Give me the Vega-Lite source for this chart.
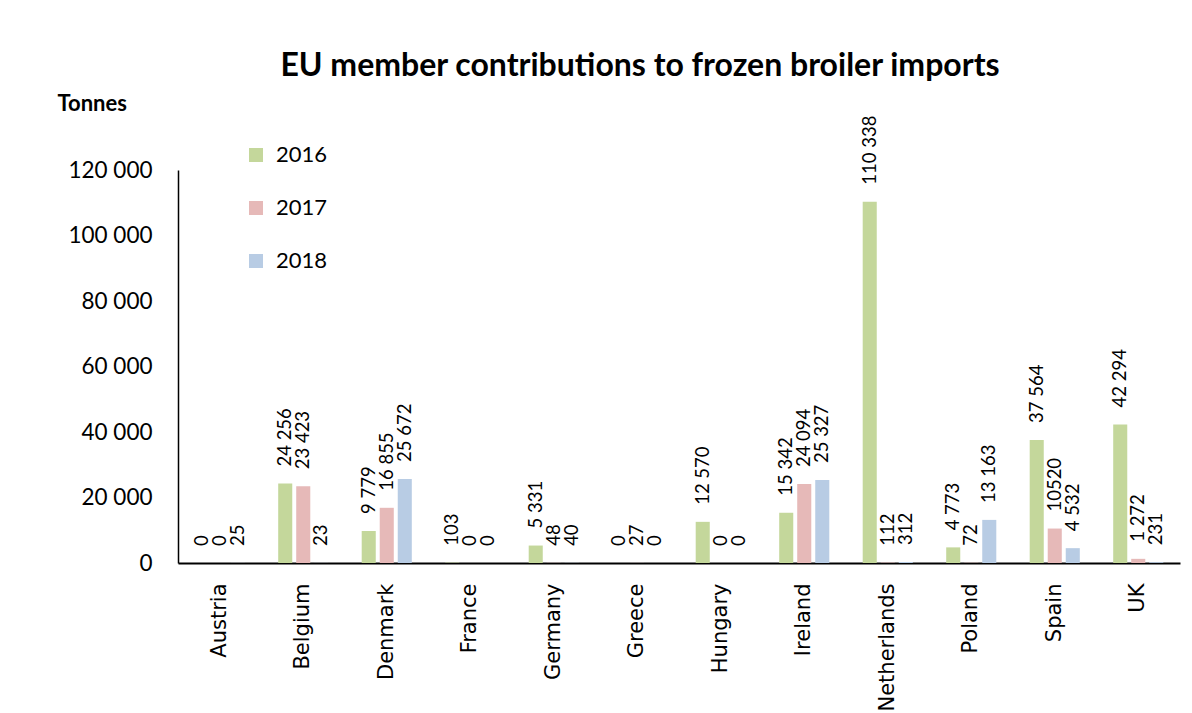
{
  "$schema": "https://vega.github.io/schema/vega-lite/v6.json",
  "autosize": {"type": "none"},
  "padding": {"left": 178, "top": 170, "right": 12, "bottom": 150},
  "width": 1002,
  "height": 393,
  "background": "white",
  "title": {
    "text": "EU member contributions to frozen broiler imports",
    "font": "Lato",
    "fontSize": 32,
    "fontWeight": "bold",
    "color": "#000000",
    "anchor": "middle",
    "frame": "group",
    "dx": -39,
    "offset": 9
  },
  "data": {
    "values": [
      {"country": "Austria", "year": "2016", "value": 0, "label": "0"},
      {"country": "Austria", "year": "2017", "value": 0, "label": "0"},
      {"country": "Austria", "year": "2018", "value": 25, "label": "25"},
      {"country": "Belgium", "year": "2016", "value": 24256, "label": "24 256"},
      {"country": "Belgium", "year": "2017", "value": 23423, "label": "23 423"},
      {"country": "Belgium", "year": "2018", "value": 23, "label": "23"},
      {"country": "Denmark", "year": "2016", "value": 9779, "label": "9 779"},
      {"country": "Denmark", "year": "2017", "value": 16855, "label": "16 855"},
      {"country": "Denmark", "year": "2018", "value": 25672, "label": "25 672"},
      {"country": "France", "year": "2016", "value": 103, "label": "103"},
      {"country": "France", "year": "2017", "value": 0, "label": "0"},
      {"country": "France", "year": "2018", "value": 0, "label": "0"},
      {"country": "Germany", "year": "2016", "value": 5331, "label": "5 331"},
      {"country": "Germany", "year": "2017", "value": 48, "label": "48"},
      {"country": "Germany", "year": "2018", "value": 40, "label": "40"},
      {"country": "Greece", "year": "2016", "value": 0, "label": "0"},
      {"country": "Greece", "year": "2017", "value": 27, "label": "27"},
      {"country": "Greece", "year": "2018", "value": 0, "label": "0"},
      {"country": "Hungary", "year": "2016", "value": 12570, "label": "12 570"},
      {"country": "Hungary", "year": "2017", "value": 0, "label": "0"},
      {"country": "Hungary", "year": "2018", "value": 0, "label": "0"},
      {"country": "Ireland", "year": "2016", "value": 15342, "label": "15 342"},
      {"country": "Ireland", "year": "2017", "value": 24094, "label": "24 094"},
      {"country": "Ireland", "year": "2018", "value": 25327, "label": "25 327"},
      {"country": "Netherlands", "year": "2016", "value": 110338, "label": "110 338"},
      {"country": "Netherlands", "year": "2017", "value": 112, "label": "112"},
      {"country": "Netherlands", "year": "2018", "value": 312, "label": "312"},
      {"country": "Poland", "year": "2016", "value": 4773, "label": "4 773"},
      {"country": "Poland", "year": "2017", "value": 72, "label": "72"},
      {"country": "Poland", "year": "2018", "value": 13163, "label": "13 163"},
      {"country": "Spain", "year": "2016", "value": 37564, "label": "37 564"},
      {"country": "Spain", "year": "2017", "value": 10520, "label": "10520"},
      {"country": "Spain", "year": "2018", "value": 4532, "label": "4 532"},
      {"country": "UK", "year": "2016", "value": 42294, "label": "42 294"},
      {"country": "UK", "year": "2017", "value": 1272, "label": "1 272"},
      {"country": "UK", "year": "2018", "value": 231, "label": "231"}
    ]
  },
  "encoding": {
    "x": {
      "field": "country",
      "type": "nominal",
      "sort": null,
      "scale": {"paddingInner": 0.4, "paddingOuter": 0.2},
      "axis": {
        "title": null,
        "labelAngle": -90,
        "labelFont": "DejaVu Sans",
        "labelFontSize": 21,
        "labelColor": "#000000",
        "labelPadding": 20,
        "labelLimit": 200,
        "ticks": false,
        "domainColor": "#000000",
        "domainWidth": 2
      }
    },
    "xOffset": {
      "field": "year",
      "type": "nominal",
      "scale": {"paddingInner": 0.22, "paddingOuter": 0}
    },
    "y": {
      "field": "value",
      "type": "quantitative",
      "scale": {"domain": [0, 120000], "nice": false},
      "axis": {
        "title": "Tonnes",
        "titleAngle": 0,
        "titleAlign": "left",
        "titleBaseline": "middle",
        "titleX": -121,
        "titleY": -67,
        "titleFont": "Lato",
        "titleFontSize": 22,
        "titleFontWeight": "bold",
        "titleColor": "#000000",
        "values": [0, 20000, 40000, 60000, 80000, 100000, 120000],
        "labelExpr": "replace(format(datum.value, ','), regexp(',', 'g'), ' ')",
        "labelFont": "Lato",
        "labelFontSize": 22.5,
        "labelColor": "#000000",
        "labelPadding": 26,
        "ticks": false,
        "grid": false,
        "domainColor": "#000000",
        "domainWidth": 1.5
      }
    }
  },
  "layer": [
    {
      "mark": {"type": "bar"},
      "encoding": {
        "color": {
          "field": "year",
          "type": "nominal",
          "scale": {"domain": ["2016", "2017", "2018"], "range": ["#c4d79b", "#e6b9b8", "#b8cce4"]},
          "legend": {
            "title": null,
            "orient": "none",
            "legendX": 67,
            "legendY": -26,
            "symbolType": "square",
            "symbolSize": 196,
            "symbolStrokeWidth": 0,
            "labelFont": "Lato",
            "labelFontSize": 22,
            "labelColor": "#000000",
            "labelOffset": 9,
            "rowPadding": 31,
            "padding": 0
          }
        }
      }
    },
    {
      "mark": {"type": "text", "angle": 270, "align": "left", "baseline": "middle", "dx": 17, "font": "Lato", "fontSize": 18.5, "color": "#000000"},
      "encoding": {
        "text": {"field": "label", "type": "nominal"}
      }
    }
  ],
  "config": {
    "view": {"stroke": null}
  }
}
